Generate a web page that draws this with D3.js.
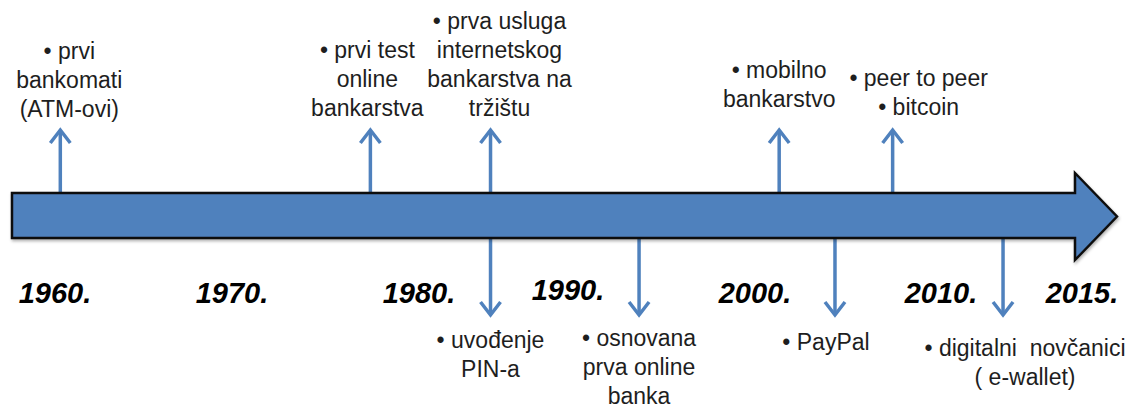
<!DOCTYPE html>
<html>
<head>
<meta charset="utf-8">
<script src="https://cdn.jsdelivr.net/npm/d3@7"></script>
<style>
    html, body { margin: 0; padding: 0; background: #fff; }
    svg { display: block; }
</style>
</head>
<body>
<div id="timeline"></div>
<script>
// years written under the main arrow
const yearTicks = [1960, 1970, 1980, 1990, 2000, 2010, 2015];
const yearLabels = ["1960.", "1970.", "1980.", "1990.", "2000.", "2010.", "2015."];

// events above the arrow (arrows pointing up)
const upYears = [1960.3, 1977.4, 1984.8, 2001.3, 2007.4];
const upLabels = [
    ["• prvi", "bankomati", "(ATM-ovi)"],
    ["• prvi test", "online", "bankarstva"],
    ["• prva usluga", "internetskog", "bankarstva na", "tržištu"],
    ["• mobilno", "bankarstvo"],
    ["• peer to peer", "• bitcoin"]
];

// events below the arrow (arrows pointing down)
const downYears = [1984.8, 1993.8, 2004.3, 2012.2];
const downLabels = [
    ["• uvođenje", "PIN-a"],
    ["• osnovana", "prva online", "banka"],
    ["• PayPal"],
    ["• digitalni\u00a0 novčanici", "( e-wallet)"]
];

// layout (not data)
const width = 1132, height = 408;
const blue = "#4f81bd";
const bodyTop = 193, bodyBottom = 238, headTop = 173, headBottom = 260;
const bodyLeft = 12, headX = 1075, tipX = 1117;
const upTip = 130, downTip = 315;
const lineH = 29;
const upDx = [9, -3, 9, 0, 26];             // text block shift from its arrow
const upBottom = [117, 116, 116, 107, 115]; // baseline of last line
const downDx = [0, 0, -9, 22];
const downTop = [348, 346, 350, 356];       // baseline of first line
const yearBase = [303, 303, 303, 300, 303, 303, 303];

// the drawing is not to scale, so the year scale is piecewise
const x = d3.scaleLinear()
    .domain(yearTicks)
    .range([55, 232, 419, 568, 755, 941, 1082]);

const svg = d3.select("#timeline").append("svg")
    .attr("width", width)
    .attr("height", height);

const defs = svg.append("defs");
defs.append("filter").attr("id", "shadow")
    .attr("x", "-5%").attr("y", "-20%").attr("width", "110%").attr("height", "150%")
    .append("feDropShadow")
    .attr("dx", 1).attr("dy", 2).attr("stdDeviation", 1.5)
    .attr("flood-color", "#000").attr("flood-opacity", 0.3);

// small event arrows
function drawArrows(years, from, to, cls) {
    const dir = to < from ? 1 : -1; // chevron opens back toward the main arrow
    const g = svg.append("g").attr("class", cls)
        .attr("stroke", blue).attr("stroke-width", 3.5).attr("fill", "none");
    g.selectAll("line").data(years).enter().append("line")
        .attr("x1", d => x(d)).attr("x2", d => x(d))
        .attr("y1", from).attr("y2", to + dir * 1.5);
    g.selectAll("path").data(years).enter().append("path")
        .attr("stroke-linejoin", "miter")
        .attr("d", d => "M" + (x(d) - 10) + "," + (to + dir * 13) +
            "L" + x(d) + "," + to +
            "L" + (x(d) + 10) + "," + (to + dir * 13));
}
drawArrows(upYears, bodyTop, upTip, "upArrows");
drawArrows(downYears, bodyBottom, downTip, "downArrows");

// main timeline arrow
svg.append("path")
    .attr("d", "M" + bodyLeft + "," + bodyTop +
        "L" + headX + "," + bodyTop +
        "L" + headX + "," + headTop +
        "L" + tipX + "," + ((headTop + headBottom) / 2) +
        "L" + headX + "," + headBottom +
        "L" + headX + "," + bodyBottom +
        "L" + bodyLeft + "," + bodyBottom + "Z")
    .attr("fill", blue)
    .attr("stroke", "#111")
    .attr("stroke-width", 2.5)
    .attr("stroke-linejoin", "miter")
    .attr("filter", "url(#shadow)");

// year labels
svg.append("g").selectAll("text").data(yearTicks).enter().append("text")
    .attr("x", d => x(d))
    .attr("y", (d, i) => yearBase[i])
    .attr("text-anchor", "middle")
    .style("font-family", "Arial, 'Liberation Sans', sans-serif")
    .style("font-size", "29px")
    .style("font-weight", "bold")
    .style("font-style", "italic")
    .style("fill", "#000")
    .text((d, i) => yearLabels[i]);

// multi-line event labels
function drawLabels(years, labels, dx, firstBase) {
    const g = svg.append("g");
    const blocks = g.selectAll("text").data(years).enter().append("text")
        .attr("text-anchor", "middle")
        .style("font-family", "Arial, 'Liberation Sans', sans-serif")
        .style("font-size", "23px")
        .style("fill", "#1e1e1e");
    blocks.each(function (d, i) {
        d3.select(this).selectAll("tspan").data(labels[i]).enter().append("tspan")
            .attr("x", x(d) + dx[i])
            .attr("y", (l, j) => firstBase(i) + j * lineH)
            .text(l => l);
    });
}
drawLabels(upYears, upLabels, upDx, i => upBottom[i] - (upLabels[i].length - 1) * lineH);
drawLabels(downYears, downLabels, downDx, i => downTop[i]);
</script>
</body>
</html>
